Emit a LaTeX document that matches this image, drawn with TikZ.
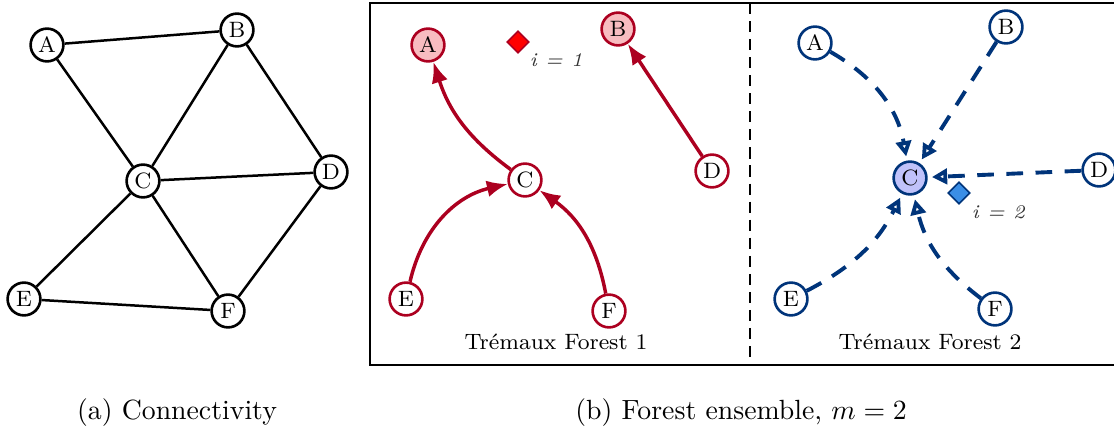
\documentclass[tikz,border=0pt]{standalone}
\usetikzlibrary{arrows.meta,shapes.geometric}
\definecolor{forestred}{RGB}{172,0,32}
\definecolor{rootred}{RGB}{248,188,192}
\definecolor{markred}{RGB}{255,0,0}
\definecolor{forestblue}{RGB}{0,52,122}
\definecolor{rootblue}{RGB}{192,194,250}
\definecolor{markblue}{RGB}{58,142,230}

\begin{document}
\begin{tikzpicture}[x=0.36pt,y=-0.36pt,
  vtx/.style={circle, draw, fill=white, line width=0.95pt, minimum size=11.8pt, inner sep=0pt, font=\footnotesize},
  redvtx/.style={vtx, draw=forestred},
  redroot/.style={redvtx, fill=rootred},
  bluevtx/.style={vtx, draw=forestblue},
  blueroot/.style={bluevtx, fill=rootblue},
  edge/.style={line width=0.9pt},
  redarc/.style={draw=forestred, line width=1.25pt, -{Latex[length=7.5pt,width=6pt]}},
  bluearc/.style={draw=forestblue, line width=1.4pt, dash pattern=on 6pt off 4.5pt, shorten >=1.5pt, -{Triangle[open,length=5.5pt,width=5.5pt]}},
  probe/.style={diamond, draw, line width=0.6pt, minimum size=8pt, inner sep=0pt},
  tag/.style={font=\scriptsize\itshape, text=black!80}]
\useasboundingbox (0,0) rectangle (1114,437);
% (a) connectivity
\node[vtx] (gA) at (47,45) {A};
\node[vtx] (gB) at (237,30) {B};
\node[vtx] (gC) at (143,181) {C};
\node[vtx] (gD) at (331,172) {D};
\node[vtx] (gE) at (24,299) {E};
\node[vtx] (gF) at (228,311) {F};
\draw[edge] (gA) -- (gB);
\draw[edge] (gA) -- (gC);
\draw[edge] (gB) -- (gC);
\draw[edge] (gB) -- (gD);
\draw[edge] (gC) -- (gD);
\draw[edge] (gC) -- (gE);
\draw[edge] (gC) -- (gF);
\draw[edge] (gD) -- (gF);
\draw[edge] (gE) -- (gF);
\node at (177,413) {(a) Connectivity};
% (b) forest ensemble
\draw[line width=0.9pt] (370,3) rectangle (1122,365);
\draw[line width=0.9pt, dash pattern=on 4pt off 2.5pt] (750,3) -- (750,365);
% forest 1
\node[redroot] (rA) at (428,45) {A};
\node[redroot] (rB) at (618,29) {B};
\node[redvtx] (rC) at (525,180) {C};
\node[redvtx] (rD) at (712,171) {D};
\node[redvtx] (rE) at (406,299) {E};
\node[redvtx] (rF) at (609,311) {F};
\draw[redarc] (rC) to[bend left=18] (rA);
\draw[redarc] (rD) -- (rB);
\draw[redarc] (rE) to[bend left=32] (rC);
\draw[redarc] (rF) to[bend right=22] (rC);
\node[probe, draw=forestred, fill=markred] (m1) at (518,42) {};
\node[tag, anchor=west] at (520,60) {i = 1};
\node[font=\footnotesize] at (556,342) {Tr\'emaux Forest 1};
% forest 2
\node[bluevtx] (bA) at (815,43) {A};
\node[bluevtx] (bB) at (1006,27) {B};
\node[blueroot] (bC) at (910,178) {C};
\node[bluevtx] (bD) at (1099,170) {D};
\node[bluevtx] (bE) at (791,299) {E};
\node[bluevtx] (bF) at (995,309) {F};
\draw[bluearc] (bA) to[bend left=25] (bC);
\draw[bluearc] (bB) -- (bC);
\draw[bluearc] (bD) -- (bC);
\draw[bluearc] (bE) to[bend right=18] (bC);
\draw[bluearc] (bF) to[bend left=20] (bC);
\node[probe, draw=forestblue, fill=markblue] (m2) at (959,193) {};
\node[tag, anchor=west] at (962,212) {i = 2};
\node[font=\footnotesize] at (930,342) {Tr\'emaux Forest 2};
\node at (741,413) {(b) Forest ensemble, $m=2$};
\end{tikzpicture}
\end{document}
